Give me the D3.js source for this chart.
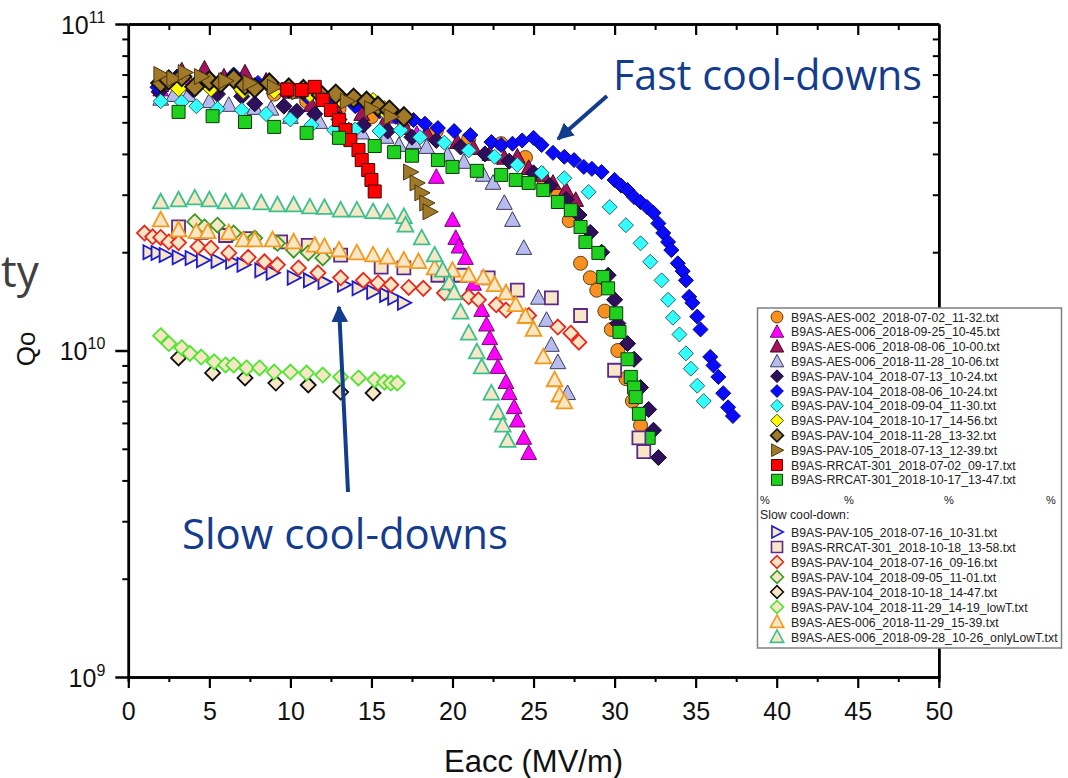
<!DOCTYPE html>
<html>
<head>
<meta charset="utf-8">
<script src="https://cdn.jsdelivr.net/npm/d3@7"></script>
<style>
  body { margin: 0; background: #fff; }
  svg { display: block; }
</style>
</head>
<body>
<svg id="chart"></svg>
<script>
// Eacc in MV/m, Qo in units of 1e10
const Q_UNIT = 1e10;

// ---- fast cool-downs ----
const aes002_0702 = [[2.0,6.5],[3.5,6.7],[5.0,6.5],[7.0,6.3],[9.0,6.1],[11.0,5.8],[13.0,5.5],[15.0,5.2],[17.0,5.0],[19.0,4.7],[21.0,4.45],[23.0,4.3],[24.5,3.9],[25.5,3.4],[26.5,3.0],[27.2,2.5],[27.9,1.85],[28.5,1.67],[28.9,1.53],[29.4,1.32],[29.8,1.16],[30.2,1.0],[30.7,0.82],[31.1,0.70],[31.6,0.59]];
const aes006_0925 = [[2.0,6.3],[3.5,6.7],[5.0,6.8],[7.0,6.6],[9.0,6.4],[11.0,6.2],[13.0,5.9],[15.0,5.6],[16.5,5.2],[17.8,4.6],[19.0,3.40],[20.0,2.51],[20.2,2.21],[20.4,2.08],[20.8,1.92],[21.3,1.6],[21.8,1.33],[22.1,1.20],[22.3,1.09],[22.6,0.98],[22.8,0.89],[23.3,0.80],[23.5,0.74],[23.8,0.67],[24.0,0.61],[24.4,0.54],[24.7,0.485]];
const aes006_0806 = [[2.0,6.5],[3.3,7.2],[4.7,7.3],[5.9,6.9],[7.2,7.1],[8.5,6.7],[10.0,6.2],[11.3,5.65],[12.8,5.5],[14.4,5.3],[15.8,5.0],[17.1,4.8],[18.4,4.64],[20.3,4.35],[21.3,4.17],[22.3,4.0],[23.2,3.89],[24.0,3.92],[24.7,3.62],[25.6,3.45],[26.2,3.26],[27.0,3.1],[27.6,2.89]];
const aes006_1128 = [[2.0,5.9],[2.8,6.06],[3.7,6.06],[5.0,5.8],[6.2,5.65],[7.8,5.53],[8.8,5.5],[10.0,5.19],[11.8,5.01],[13.6,4.73],[14.4,4.65],[15.9,4.51],[16.7,4.26],[17.6,4.35],[18.4,4.20],[19.7,3.97],[20.7,3.78],[21.9,3.45],[22.5,3.26],[23.2,2.83],[23.7,2.51],[24.4,2.06],[25.3,1.45],[25.8,1.24],[26.1,1.04],[26.5,0.92],[27.1,0.74]];
const pav104_0713 = [[1.9,6.2],[3.0,6.5],[4.0,6.3],[5.5,6.1],[7.0,6.0],[7.8,5.7],[9.6,5.6],[10.4,5.4],[11.5,5.3],[13.0,5.1],[14.5,4.9],[16.0,4.7],[17.5,4.5],[19.0,4.4],[20.5,4.2],[22.0,4.0],[23.5,3.8],[25.0,3.5],[26.0,3.2],[27.0,2.9],[27.8,2.6],[28.5,2.3],[29.2,2.0],[29.6,1.7],[30.0,1.43],[30.2,1.21],[30.8,1.05],[31.2,0.94],[31.6,0.77],[32.1,0.66],[32.4,0.57],[32.7,0.47]];
const pav104_0806 = [[1.8,6.4],[3.0,6.9],[4.5,6.8],[6.5,7.0],[8.0,6.6],[9.5,6.3],[11.0,6.0],[12.5,5.8],[14.0,5.6],[15.5,5.4],[16.5,5.2],[17.6,5.08],[18.3,4.95],[19.1,4.8],[20.1,4.7],[21.1,4.57],[22.4,4.35],[23.0,4.26],[23.7,4.3],[24.3,4.4],[25.0,4.48],[25.5,4.26],[26.2,4.03],[26.9,3.92],[27.5,3.83],[28.1,3.65],[28.6,3.6],[29.2,3.52],[30.0,3.33],[30.4,3.2],[30.8,3.10],[31.2,2.95],[31.6,2.85],[32.0,2.75],[32.4,2.64],[32.7,2.45],[33.0,2.29],[33.3,2.15],[33.5,2.03],[33.9,1.85],[34.2,1.75],[34.4,1.64],[34.6,1.46],[34.8,1.40],[35.1,1.27],[35.3,1.16],[35.9,0.956],[36.1,0.90],[36.4,0.83],[36.7,0.74],[37.0,0.67],[37.3,0.63]];
const pav104_0904 = [[2.0,5.8],[3.3,5.77],[4.2,5.6],[5.5,5.5],[7.0,5.45],[8.5,5.3],[10.0,5.1],[11.3,4.9],[12.7,4.73],[14.0,4.75],[15.5,4.7],[16.8,4.73],[18.0,4.5],[19.5,4.33],[21.0,4.1],[22.6,3.92],[24.0,3.7],[25.5,3.5],[26.9,3.37],[28.4,3.06],[29.7,2.75],[30.7,2.42],[31.6,2.13],[32.2,1.87],[32.9,1.64],[33.3,1.43],[33.6,1.26],[34.0,1.12],[34.4,0.98],[34.7,0.88],[35.1,0.78],[35.5,0.70]];
const pav104_1017 = [[3.1,6.4],[5.1,6.4],[7.1,6.3],[9.0,6.3],[11.2,6.15],[13.1,5.93],[15.1,5.77],[15.8,5.45]];
const pav104_1128 = [[2.0,6.6],[2.5,6.74],[3.3,6.9],[4.1,6.42],[5.0,6.7],[5.7,6.6],[6.5,6.8],[7.2,6.5],[7.8,6.37],[8.7,6.6],[9.9,6.37],[10.8,6.3],[11.9,6.06],[12.8,6.1],[13.9,5.93],[14.7,5.8],[15.4,5.6],[16.1,5.45],[17.0,5.2]];
const pav105_0713 = [[2.0,7.0],[2.8,6.8],[3.5,7.1],[4.5,6.9],[6.0,6.7],[7.5,6.6],[9.0,6.4],[10.5,6.2],[12.0,6.0],[13.5,5.8],[15.0,5.5],[16.2,5.2],[17.4,3.52],[17.8,3.26],[18.1,3.04],[18.4,2.83],[18.6,2.66]];
const rrcat301_0702 = [[9.8,6.3],[10.7,6.28],[11.5,6.42],[12.0,5.85],[12.5,5.45],[13.0,5.08],[13.4,4.73],[13.7,4.41],[14.2,4.11],[14.4,3.83],[14.8,3.57],[15.0,3.33],[15.2,3.07]];
const rrcat301_1017 = [[3.1,5.38],[5.2,5.22],[7.2,5.01],[9.0,4.84],[11.0,4.64],[13.0,4.48],[15.2,4.23],[16.4,4.05],[17.5,3.95],[19.1,3.83],[20.0,3.65],[21.5,3.55],[23.0,3.45],[23.9,3.33],[24.7,3.26],[25.6,3.10],[26.5,2.85],[27.3,2.69],[27.9,2.39],[28.2,2.15],[29.0,1.99],[29.3,1.68],[29.6,1.55],[30.1,1.30],[30.3,1.14],[30.8,0.94],[31.0,0.83],[31.2,0.77],[31.3,0.72],[31.5,0.64],[32.1,0.54]];

// ---- slow cool-downs ----
const pav105_0716 = [[1.3,2.0],[1.8,1.99],[2.3,1.96],[3.1,1.93],[3.9,1.92],[4.6,1.89],[5.5,1.88],[6.4,1.87],[7.1,1.83],[8.2,1.76],[8.9,1.73],[10.2,1.67],[11.2,1.64],[12.1,1.62],[13.3,1.59],[14.2,1.55],[15.1,1.51],[15.9,1.48],[16.4,1.45],[17.0,1.40]];
const rrcat301_1018 = [[3.1,2.39],[4.5,2.3],[6.0,2.25],[7.5,2.2],[9.4,2.15],[11.1,2.10],[13.1,1.96],[15.6,1.80],[17.0,1.79],[19.1,1.70],[20.5,1.70],[22.2,1.67],[24.0,1.53],[26.1,1.45],[27.9,1.28],[30.0,0.87],[31.5,0.54],[31.8,0.49]];
const pav104_0716 = [[1.0,2.29],[1.5,2.23],[2.0,2.22],[2.5,2.15],[3.1,2.14],[4.3,2.08],[5.1,2.06],[6.2,1.99],[7.4,1.93],[8.4,1.87],[9.2,1.83],[10.5,1.79],[11.7,1.73],[13.1,1.67],[14.5,1.64],[15.4,1.61],[16.2,1.59],[17.3,1.56],[18.2,1.55],[19.5,1.50],[21.0,1.46],[21.6,1.43],[22.7,1.38],[23.3,1.33],[24.7,1.28],[26.5,1.18],[27.3,1.13],[27.8,1.06]];
const pav104_0905 = [[4.1,2.48],[4.7,2.39],[5.5,2.42],[6.5,2.29],[7.8,2.21],[9.2,2.13],[10.2,2.03],[11.1,1.99],[12.0,1.92]];
const pav104_1018 = [[3.1,0.949],[5.2,0.854],[7.2,0.824],[9.1,0.795],[11.1,0.784],[13.1,0.746],[15.1,0.741]];
const pav104_1129 = [[2.0,1.11],[2.5,1.05],[3.3,1.02],[3.8,0.98],[4.5,0.955],[5.3,0.923],[6.0,0.903],[6.5,0.903],[7.3,0.884],[8.1,0.884],[9.0,0.859],[10.0,0.859],[11.0,0.853],[12.0,0.841],[13.1,0.830],[14.2,0.824],[15.2,0.813],[15.8,0.80],[16.2,0.795],[16.6,0.795]];
const aes006_1129 = [[2.0,2.51],[3.1,2.34],[4.2,2.31],[4.9,2.31],[6.2,2.29],[7.1,2.18],[7.8,2.18],[8.9,2.18],[10.2,2.15],[11.5,2.10],[12.1,2.08],[13.0,2.03],[14.1,1.99],[15.1,1.96],[16.0,1.93],[17.0,1.89],[17.9,1.87],[18.9,1.79],[20.0,1.76],[21.0,1.70],[21.9,1.67],[22.6,1.59],[23.3,1.50],[23.9,1.38],[24.5,1.27],[25.0,1.16],[25.6,0.955],[26.3,0.813],[26.6,0.73],[26.9,0.695]];
const aes006_0928 = [[2.0,2.85],[3.1,2.89],[4.1,2.93],[5.0,2.89],[6.0,2.85],[7.0,2.85],[8.2,2.83],[9.2,2.79],[10.2,2.79],[11.2,2.75],[12.1,2.74],[13.1,2.69],[14.1,2.69],[15.1,2.66],[16.0,2.65],[17.0,2.57],[17.1,2.42],[18.1,2.21],[18.9,1.96],[19.4,1.76],[19.8,1.61],[20.1,1.50],[20.5,1.31],[21.0,1.13],[21.5,0.99],[21.8,0.89],[22.4,0.74],[22.8,0.644],[23.1,0.59],[23.4,0.53]];

const fastNames = [
  'B9AS-AES-002_2018-07-02_11-32.txt', 'B9AS-AES-006_2018-09-25_10-45.txt',
  'B9AS-AES-006_2018-08-06_10-00.txt', 'B9AS-AES-006_2018-11-28_10-06.txt',
  'B9AS-PAV-104_2018-07-13_10-24.txt', 'B9AS-PAV-104_2018-08-06_10-24.txt',
  'B9AS-PAV-104_2018-09-04_11-30.txt', 'B9AS-PAV-104_2018-10-17_14-56.txt',
  'B9AS-PAV-104_2018-11-28_13-32.txt', 'B9AS-PAV-105_2018-07-13_12-39.txt',
  'B9AS-RRCAT-301_2018-07-02_09-17.txt', 'B9AS-RRCAT-301_2018-10-17_13-47.txt'
];
const slowNames = [
  'B9AS-PAV-105_2018-07-16_10-31.txt', 'B9AS-RRCAT-301_2018-10-18_13-58.txt',
  'B9AS-PAV-104_2018-07-16_09-16.txt', 'B9AS-PAV-104_2018-09-05_11-01.txt',
  'B9AS-PAV-104_2018-10-18_14-47.txt', 'B9AS-PAV-104_2018-11-29_14-19_lowT.txt',
  'B9AS-AES-006_2018-11-29_15-39.txt', 'B9AS-AES-006_2018-09-28_10-26_onlyLowT.txt'
];
const fastData = [aes002_0702, aes006_0925, aes006_0806, aes006_1128, pav104_0713, pav104_0806,
                  pav104_0904, pav104_1017, pav104_1128, pav105_0713, rrcat301_0702, rrcat301_1017];
const slowData = [pav105_0716, rrcat301_1018, pav104_0716, pav104_0905, pav104_1018, pav104_1129,
                  aes006_1129, aes006_0928];

const xMajor = [0, 5, 10, 15, 20, 25, 30, 35, 40, 45, 50];
const xMinor = [2.5, 7.5, 12.5, 17.5, 22.5, 27.5, 32.5, 37.5, 42.5, 47.5];
const yDecades = [1e9, 1e10, 1e11];
const yExponents = ['9', '10', '11'];

// ---- styles ----
const BEIGE = '#f7e7c6';
const fastStyle = [
  {shape: 'circle',   fill: '#f7901e', stroke: '#5e3f1a', sw: 1,   r: 7},
  {shape: 'triUp',    fill: '#ff00ff', stroke: '#6a106a', sw: 1,   r: 7.5},
  {shape: 'triUp',    fill: '#a3145e', stroke: '#3f0822', sw: 1,   r: 7.5},
  {shape: 'triUp',    fill: '#b8bbf0', stroke: '#3a3a58', sw: 1,   r: 7.5},
  {shape: 'diamond',  fill: '#2e0f5c', stroke: '#14062a', sw: 1,   r: 8},
  {shape: 'diamond',  fill: '#0a0aff', stroke: '#08087a', sw: 1,   r: 7.5},
  {shape: 'diamond',  fill: '#33ffff', stroke: '#2a6464', sw: 1,   r: 7.5},
  {shape: 'diamond',  fill: '#ffff00', stroke: '#4a4a18', sw: 1,   r: 9.5},
  {shape: 'diamond',  fill: '#a07a28', stroke: '#111111', sw: 2,   r: 9.5},
  {shape: 'triRight', fill: '#a07a28', stroke: '#4a3810', sw: 1,   r: 8},
  {shape: 'square',   fill: '#ff0000', stroke: '#4a0000', sw: 1,   r: 6.5},
  {shape: 'square',   fill: '#1fd11f', stroke: '#0a3a0a', sw: 1,   r: 6.5}
];
const slowStyle = [
  {shape: 'triRight', fill: BEIGE, stroke: '#1c1ccc', sw: 1.8, r: 7},
  {shape: 'square',   fill: BEIGE, stroke: '#5b2a8c', sw: 1.8, r: 6.5},
  {shape: 'diamond',  fill: BEIGE, stroke: '#e8281e', sw: 1.8, r: 7.5},
  {shape: 'diamond',  fill: BEIGE, stroke: '#3a9a28', sw: 1.8, r: 7.5},
  {shape: 'diamond',  fill: BEIGE, stroke: '#111111', sw: 1.8, r: 7.5},
  {shape: 'diamond',  fill: BEIGE, stroke: '#4de62e', sw: 1.8, r: 7.5},
  {shape: 'triUp',    fill: BEIGE, stroke: '#f39a1e', sw: 1.8, r: 7.5},
  {shape: 'triUp',    fill: BEIGE, stroke: '#3cc08c', sw: 1.8, r: 7.5}
];

// custom symbol types for d3.symbol (size = (2r)^2)
const shapes = {
  circle:   { draw(c, size) { const s = Math.sqrt(size) / 2; c.moveTo(s, 0); c.arc(0, 0, s, 0, 2 * Math.PI); } },
  triUp:    { draw(c, size) { const s = Math.sqrt(size) / 2; c.moveTo(0, -1.1 * s); c.lineTo(1.05 * s, 0.85 * s); c.lineTo(-1.05 * s, 0.85 * s); c.closePath(); } },
  triRight: { draw(c, size) { const s = Math.sqrt(size) / 2; c.moveTo(-0.85 * s, -s); c.lineTo(1.05 * s, 0); c.lineTo(-0.85 * s, s); c.closePath(); } },
  diamond:  { draw(c, size) { const s = Math.sqrt(size) / 2; c.moveTo(0, -s); c.lineTo(s, 0); c.lineTo(0, s); c.lineTo(-s, 0); c.closePath(); } },
  square:   { draw(c, size) { const s = Math.sqrt(size) / 2; c.rect(-s, -s, 2 * s, 2 * s); } }
};
const symbolPath = (st, r) => d3.symbol().type(shapes[st.shape]).size((2 * r) * (2 * r))();

const W = 1068, H = 778;
const FONT = '"Liberation Sans", Arial, sans-serif';
const ANNOT = '#143c8c';

const svg = d3.select('#chart').attr('width', W).attr('height', H);

const x = d3.scaleLinear().domain([0, 50]).range([128.3, 938.8]);
const y = d3.scaleLog().domain([1e9, 1e11]).range([677, 24]);

const yMinor = [];
[1e9, 1e10].forEach(d => { for (let k = 2; k <= 9; k++) yMinor.push(d * k); });

// ---- axes ----
function styleAxis(g, sw) {
  g.select('.domain').attr('stroke', '#000').attr('stroke-width', 2.5);
  g.selectAll('.tick line').attr('stroke', '#000').attr('stroke-width', sw);
}

// bottom
svg.append('g').attr('transform', `translate(0,${y(1e9)})`)
  .call(d3.axisBottom(x).tickValues(xMinor).tickSize(5).tickFormat(''))
  .call(g => styleAxis(g, 2));
const bottom = svg.append('g').attr('transform', `translate(0,${y(1e9)})`)
  .call(d3.axisBottom(x).tickValues(xMajor).tickSize(11).tickSizeOuter(0).tickPadding(14).tickFormat(d3.format('d')))
  .call(g => styleAxis(g, 2.2));
bottom.selectAll('.tick text').attr('font-family', FONT).attr('font-size', 25).attr('fill', '#111');

// top (inward ticks)
svg.append('g').attr('transform', `translate(0,${y(1e11)})`)
  .call(d3.axisTop(x).tickValues(xMinor).tickSize(-6).tickSizeOuter(0).tickFormat(''))
  .call(g => styleAxis(g, 2));
svg.append('g').attr('transform', `translate(0,${y(1e11)})`)
  .call(d3.axisTop(x).tickValues(xMajor.slice(1, -1)).tickSize(-11).tickSizeOuter(0).tickFormat(''))
  .call(g => styleAxis(g, 2.2));

// left
svg.append('g').attr('transform', `translate(${x(0)},0)`)
  .call(d3.axisLeft(y).tickValues(yMinor).tickSize(6).tickSizeOuter(0).tickFormat(''))
  .call(g => styleAxis(g, 2));
const left = svg.append('g').attr('transform', `translate(${x(0)},0)`)
  .call(d3.axisLeft(y).tickValues(yDecades).tickSize(13).tickSizeOuter(0).tickPadding(10).tickFormat(''))
  .call(g => styleAxis(g, 2.5));
left.selectAll('.tick text').each(function(d, i) {
  const t = d3.select(this).attr('font-family', FONT).attr('fill', '#111').attr('dy', null).attr('y', 9);
  t.append('tspan').attr('font-size', 25).text('10');
  t.append('tspan').attr('font-size', 16).attr('dy', -11).text(yExponents[i]);
});

// right (inward ticks)
svg.append('g').attr('transform', `translate(${x(50)},0)`)
  .call(d3.axisRight(y).tickValues(yMinor).tickSize(-6).tickSizeOuter(0).tickFormat(''))
  .call(g => styleAxis(g, 2));
svg.append('g').attr('transform', `translate(${x(50)},0)`)
  .call(d3.axisRight(y).tickValues([1e10]).tickSize(-12).tickSizeOuter(0).tickFormat(''))
  .call(g => styleAxis(g, 2.5));

// axis titles
svg.append('text').attr('x', x(25)).attr('y', 772).attr('text-anchor', 'middle')
  .attr('font-family', FONT).attr('font-size', 31).attr('fill', '#111').text('Eacc (MV/m)');
svg.append('text').attr('transform', 'translate(35,349) rotate(-90)').attr('text-anchor', 'middle')
  .attr('font-family', FONT).attr('font-size', 26).attr('fill', '#111').text('Qo');
svg.append('text').attr('x', 1).attr('y', 287).attr('text-anchor', 'start')
  .attr('font-family', '"Open Sans", sans-serif').attr('font-size', 44).attr('fill', '#404040').text('ty');

// ---- markers ----
const plot = svg.append('g');
function drawSeries(data, st) {
  plot.append('g').selectAll('path').data(data).join('path')
    .attr('transform', d => `translate(${x(d[0])},${y(d[1] * Q_UNIT)})`)
    .attr('d', symbolPath(st, st.r))
    .attr('fill', st.fill).attr('stroke', st.stroke).attr('stroke-width', st.sw);
}
fastData.forEach((d, i) => drawSeries(d, fastStyle[i]));
slowData.forEach((d, i) => drawSeries(d, slowStyle[i]));

// ---- annotations ----
const defs = svg.append('defs');
defs.append('marker').attr('id', 'ah').attr('viewBox', '0 0 10 10').attr('refX', 9).attr('refY', 5)
  .attr('markerWidth', 4.2).attr('markerHeight', 4.2).attr('orient', 'auto')
  .append('path').attr('d', 'M0,0 L10,5 L0,10 Z').attr('fill', ANNOT);

svg.append('line').attr('x1', 607).attr('y1', 96).attr('x2', 558).attr('y2', 139)
  .attr('stroke', ANNOT).attr('stroke-width', 4).attr('marker-end', 'url(#ah)');
svg.append('line').attr('x1', 348).attr('y1', 492).attr('x2', 339).attr('y2', 307)
  .attr('stroke', ANNOT).attr('stroke-width', 4).attr('marker-end', 'url(#ah)');

svg.append('text').attr('x', 613).attr('y', 90).attr('textLength', 309).attr('lengthAdjust', 'spacingAndGlyphs')
  .attr('font-family', '"Open Sans", sans-serif').attr('font-size', 42).attr('fill', ANNOT).text('Fast cool-downs');
svg.append('text').attr('x', 182).attr('y', 549).attr('textLength', 326).attr('lengthAdjust', 'spacingAndGlyphs')
  .attr('font-family', '"Open Sans", sans-serif').attr('font-size', 42).attr('fill', ANNOT).text('Slow cool-downs');

// ---- legend ----
const leg = svg.append('g');
leg.append('rect').attr('x', 757.5).attr('y', 308).attr('width', 304).attr('height', 340)
  .attr('fill', '#fff').attr('stroke', '#808080').attr('stroke-width', 1.5);

function legendRow(name, st, yc) {
  leg.append('path').attr('transform', `translate(777,${yc})`)
    .attr('d', symbolPath(st, Math.min(st.r, 7.5) * 0.85))
    .attr('fill', st.fill).attr('stroke', st.stroke).attr('stroke-width', Math.min(st.sw, 1.6));
  leg.append('text').attr('transform', `translate(791,${yc + 4.6}) scale(0.945,1)`)
    .attr('font-family', FONT).attr('font-size', 13).attr('fill', '#222').text(name);
}
fastNames.forEach((n, i) => legendRow(n, fastStyle[i], 317 + i * 14.8));
[765, 849, 949, 1051].forEach(px => {
  leg.append('text').attr('x', px).attr('y', 504).attr('text-anchor', 'middle')
    .attr('font-family', FONT).attr('font-size', 11).attr('fill', '#222').text('%');
});
leg.append('text').attr('transform', 'translate(760,518.6) scale(0.945,1)')
  .attr('font-family', FONT).attr('font-size', 13).attr('fill', '#222').text('Slow cool-down:');
slowNames.forEach((n, i) => legendRow(n, slowStyle[i], 532 + i * 15));
</script>
</body>
</html>
